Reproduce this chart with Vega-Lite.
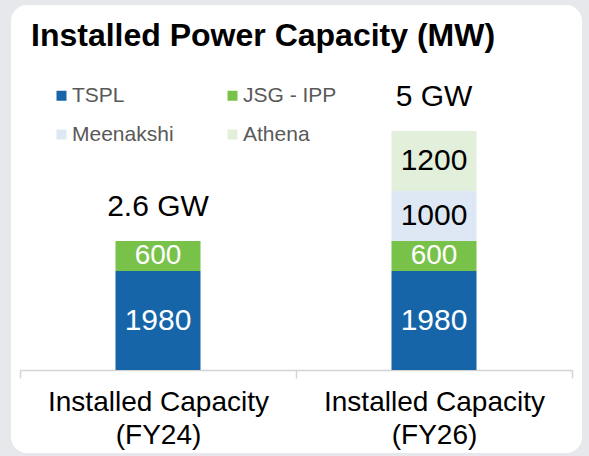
{
  "$schema": "https://vega.github.io/schema/vega-lite/v6.json",
  "autosize": "none",
  "width": 571,
  "height": 448,
  "padding": {"left": 11, "top": 5, "right": 7, "bottom": 3},
  "background": "#e7e8eb",
  "view": {"fill": "white", "cornerRadius": 16, "stroke": null},
  "title": {
    "text": "Installed Power Capacity (MW)",
    "anchor": "start",
    "frame": "group",
    "font": "Liberation Sans",
    "fontSize": 32,
    "fontWeight": "bold",
    "color": "black",
    "offset": 0,
    "baseline": "alphabetic",
    "dx": 20,
    "dy": 73
  },
  "datasets": {
    "segments": [
      {"period": "Installed Capacity (FY24)", "series": "TSPL", "rank": 1, "mw": 1980},
      {"period": "Installed Capacity (FY24)", "series": "JSG - IPP", "rank": 2, "mw": 600},
      {"period": "Installed Capacity (FY26)", "series": "TSPL", "rank": 1, "mw": 1980},
      {"period": "Installed Capacity (FY26)", "series": "JSG - IPP", "rank": 2, "mw": 600},
      {"period": "Installed Capacity (FY26)", "series": "Meenakshi", "rank": 3, "mw": 1000},
      {"period": "Installed Capacity (FY26)", "series": "Athena", "rank": 4, "mw": 1200}
    ],
    "totals": [
      {"period": "Installed Capacity (FY24)", "total": 2580, "label": "2.6 GW"},
      {"period": "Installed Capacity (FY26)", "total": 4780, "label": "5 GW"}
    ]
  },
  "encoding": {
    "x": {
      "field": "period",
      "type": "nominal",
      "sort": null,
      "scale": {"range": [9, 561], "paddingInner": 0, "paddingOuter": 0},
      "axis": {
        "title": null,
        "orient": "bottom",
        "offset": -83,
        "labelExpr": "[substring(datum.label, 0, 18), substring(datum.label, 19)]",
        "labelFont": "Liberation Sans",
        "labelFontSize": 28,
        "labelColor": "black",
        "labelLineHeight": 33,
        "labelAngle": 0,
        "labelPadding": 10,
        "labelBaseline": "top",
        "labelLimit": 0,
        "tickBand": "extent",
        "tickSize": 8,
        "tickColor": "#d4d4d4",
        "tickWidth": 1.5,
        "domainColor": "#d4d4d4",
        "domainWidth": 1.5
      }
    }
  },
  "layer": [
    {
      "data": {"name": "segments"},
      "mark": {"type": "bar", "width": 85},
      "encoding": {
        "y": {
          "field": "mw",
          "type": "quantitative",
          "stack": "zero",
          "scale": {"domain": [-1660, 7300], "nice": false, "zero": false},
          "axis": null
        },
        "color": {
          "field": "series",
          "type": "nominal",
          "sort": ["TSPL", "Meenakshi", "JSG - IPP", "Athena"],
          "scale": {
            "domain": ["TSPL", "Meenakshi", "JSG - IPP", "Athena"],
            "range": ["#1565a8", "#dde8f4", "#79c24a", "#e2efda"]
          },
          "legend": {
            "orient": "none",
            "legendX": 40,
            "legendY": 80,
            "columns": 2,
            "title": null,
            "symbolType": "square",
            "symbolSize": 100,
            "symbolStrokeWidth": 0,
            "symbolOpacity": 1,
            "labelFont": "Liberation Sans",
            "labelFontSize": 21,
            "labelColor": "#595959",
            "labelOffset": 0,
            "columnPadding": 48,
            "rowPadding": 17,
            "padding": 0
          }
        },
        "order": {"field": "rank", "type": "quantitative"}
      }
    },
    {
      "data": {"name": "segments"},
      "transform": [
        {"stack": "mw", "groupby": ["period"], "sort": [{"field": "rank", "order": "ascending"}], "as": ["y0", "y1"]},
        {"fold": ["y0", "y1"], "as": ["edge", "pos"]},
        {"aggregate": [{"op": "mean", "field": "pos", "as": "mid"}], "groupby": ["period", "series", "mw"]}
      ],
      "mark": {"type": "text", "font": "Liberation Sans", "baseline": "middle"},
      "encoding": {
        "y": {"field": "mid", "type": "quantitative"},
        "text": {"field": "mw", "type": "quantitative", "format": "d"},
        "size": {
          "condition": {"test": "datum.mw === 600", "value": 28},
          "value": 30
        },
        "color": {
          "condition": {"test": "datum.series === 'TSPL' || datum.series === 'JSG - IPP'", "value": "white"},
          "value": "black"
        }
      }
    },
    {
      "data": {"name": "totals"},
      "mark": {"type": "text", "font": "Liberation Sans", "fontSize": 30, "baseline": "middle", "dy": -34, "color": "black"},
      "encoding": {
        "y": {"field": "total", "type": "quantitative"},
        "text": {"field": "label", "type": "nominal"}
      }
    }
  ]
}
